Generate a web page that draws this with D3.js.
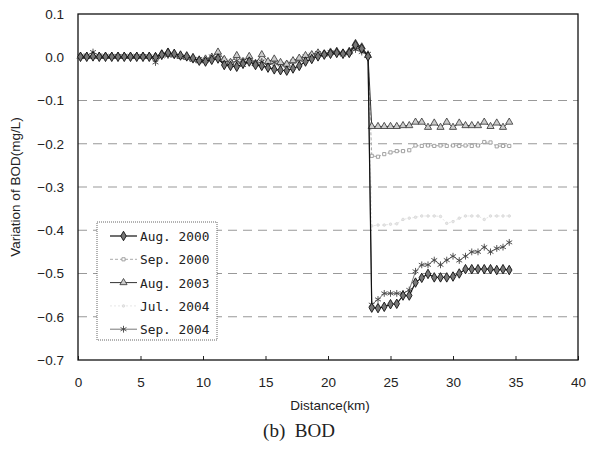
<!DOCTYPE html>
<html>
<head>
<meta charset="utf-8">
<script src="https://cdn.jsdelivr.net/npm/d3@7"></script>
<style>
  body { margin: 0; background: #fff; }
  text { font-family: "Liberation Sans", Arial, sans-serif; fill: #222; }
</style>
</head>
<body>
<script>
// distance along the river (km)
const distance = [
  0.2, 0.7, 1.2, 1.7, 2.2, 2.7, 3.2, 3.7, 4.2, 4.7, 5.2, 5.7,
  6.2, 6.7, 7.2, 7.7, 8.2, 8.7, 9.2, 9.7, 10.2, 10.7, 11.2, 11.7,
  12.2, 12.7, 13.2, 13.7, 14.2, 14.7, 15.2, 15.7, 16.2, 16.7, 17.2, 17.7,
  18.2, 18.7, 19.2, 19.7, 20.2, 20.7, 21.2, 21.7, 22.2, 22.7, 23.2,
  23.5, 24.0, 24.5, 25.0, 25.5, 26.0, 26.5, 27.0, 27.5, 28.0, 28.5, 29.0,
  29.5, 30.0, 30.5, 31.0, 31.5, 32.0, 32.5, 33.0, 33.5, 34.0, 34.5
];

const aug2000 = [
  0.001, 0.001, 0.002, 0.001, 0.001, 0.001, 0.001, 0.001, 0.001, 0.001, 0.001, 0.001,
  0.000, 0.006, 0.010, 0.008, 0.004, 0.002, -0.002, -0.008, -0.010, -0.006, -0.003, -0.018,
  -0.020, -0.022, -0.015, -0.010, -0.018, -0.020, -0.024, -0.028, -0.030, -0.031, -0.026, -0.020,
  -0.010, -0.004, 0.002, 0.006, 0.008, 0.010, 0.008, 0.010, 0.028, 0.020, 0.002,
  -0.579, -0.580, -0.577, -0.571, -0.570, -0.551, -0.551, -0.521, -0.510, -0.501, -0.509, -0.509,
  -0.509, -0.507, -0.500, -0.490, -0.490, -0.490, -0.490, -0.490, -0.492, -0.490, -0.492
];
const sep2000 = [
  0.002, 0.002, 0.002, 0.002, 0.002, 0.002, 0.002, 0.002, 0.002, 0.002, 0.002, 0.002,
  -0.002, 0.004, 0.006, 0.004, 0.002, 0.000, -0.004, -0.006, -0.005, -0.002, 0.002, -0.008,
  -0.010, -0.012, -0.006, -0.004, -0.012, -0.008, -0.014, -0.016, -0.018, -0.014, -0.012, -0.008,
  0.000, 0.004, 0.008, 0.010, 0.012, 0.012, 0.010, 0.012, 0.020, 0.016, 0.004,
  -0.228, -0.230, -0.224, -0.220, -0.217, -0.217, -0.215, -0.204, -0.205, -0.204, -0.205, -0.204,
  -0.205, -0.204, -0.205, -0.204, -0.205, -0.204, -0.196, -0.197, -0.206, -0.205, -0.205
];
const aug2003 = [
  0.002, 0.002, 0.003, 0.002, 0.002, 0.002, 0.002, 0.002, 0.002, 0.002, 0.002, 0.002,
  0.002, 0.008, 0.012, 0.006, 0.002, 0.000, -0.004, -0.008, -0.004, 0.000, 0.012, -0.005,
  -0.012, 0.004, -0.010, 0.002, -0.014, 0.006, -0.010, -0.004, -0.012, -0.016, -0.008, -0.002,
  0.004, 0.006, 0.010, 0.008, 0.012, 0.014, 0.010, 0.014, 0.032, 0.024, 0.004,
  -0.160, -0.160, -0.160, -0.160, -0.160, -0.158, -0.158, -0.150, -0.150, -0.162, -0.152, -0.162,
  -0.150, -0.162, -0.152, -0.158, -0.158, -0.158, -0.150, -0.160, -0.152, -0.162, -0.150
];
const jul2004 = [
  0.003, 0.003, 0.003, 0.003, 0.003, 0.003, 0.003, 0.003, 0.003, 0.003, 0.003, 0.003,
  0.002, 0.004, 0.006, 0.004, 0.003, 0.001, -0.002, -0.004, -0.003, 0.000, 0.004, -0.004,
  -0.006, -0.004, -0.008, -0.002, -0.010, -0.006, -0.010, -0.012, -0.014, -0.010, -0.008, -0.004,
  0.002, 0.004, 0.008, 0.010, 0.010, 0.012, 0.010, 0.012, 0.018, 0.014, 0.004,
  -0.390, -0.388, -0.388, -0.386, -0.385, -0.375, -0.372, -0.370, -0.367, -0.367, -0.367, -0.368,
  -0.384, -0.380, -0.372, -0.367, -0.367, -0.367, -0.375, -0.367, -0.367, -0.367, -0.367
];
const sep2004 = [
  0.003, 0.004, 0.012, 0.004, 0.003, 0.003, 0.003, 0.003, 0.003, 0.003, 0.003, 0.002,
  -0.012, 0.002, 0.004, 0.004, 0.002, 0.000, -0.006, -0.004, -0.008, 0.002, -0.002, -0.008,
  -0.014, -0.008, -0.018, -0.006, -0.016, -0.010, -0.020, -0.012, -0.016, -0.020, -0.010, -0.006,
  0.002, 0.006, 0.010, 0.006, 0.012, 0.010, 0.006, 0.010, 0.018, 0.012, 0.008,
  -0.572, -0.560, -0.546, -0.546, -0.546, -0.546, -0.538, -0.495, -0.480, -0.480, -0.469, -0.480,
  -0.469, -0.460, -0.470, -0.460, -0.450, -0.450, -0.439, -0.450, -0.442, -0.439, -0.428
];

const seriesNames = ["Aug. 2000", "Sep. 2000", "Aug. 2003", "Jul. 2004", "Sep. 2004"];
const seriesValues = [aug2000, sep2000, aug2003, jul2004, sep2004];
const yTicks = [0.1, 0.0, -0.1, -0.2, -0.3, -0.4, -0.5, -0.6, -0.7];
const xTicks = [0, 5, 10, 15, 20, 25, 30, 35, 40];

// look of each series
const styles = [
  { line: "#111", width: 1.2, dash: null, symbol: d3.symbolDiamond, size: 26, fill: "#777", stroke: "#111" },
  { line: "#aaa", width: 1, dash: "3,2", symbol: d3.symbolSquare, size: 10, fill: "#fff", stroke: "#999" },
  { line: "#333", width: 1, dash: null, symbol: d3.symbolTriangle, size: 22, fill: "#ccc", stroke: "#444" },
  { line: "#e6e6e6", width: 1, dash: "2,2", symbol: d3.symbolCircle, size: 5, fill: "#e8e8e8", stroke: "#d8d8d8" },
  { line: "#777", width: 1, dash: null, symbol: d3.symbolAsterisk, size: 32, fill: "none", stroke: "#444" }
];

const width = 597, height = 453;
const margin = { left: 78, right: 19, top: 14, bottom: 93 };

const svg = d3.select("body").append("svg")
  .attr("width", width)
  .attr("height", height);

const x = d3.scaleLinear().domain([0, 40]).range([margin.left, width - margin.right]);
const y = d3.scaleLinear().domain([-0.7, 0.1]).range([height - margin.bottom, margin.top]);

// dashed grid lines (-0.1 .. -0.6)
svg.append("g").selectAll("line")
  .data(yTicks.filter(d => d < -0.05 && d > -0.65))
  .join("line")
  .attr("x1", x(0)).attr("x2", x(40))
  .attr("y1", d => y(d)).attr("y2", d => y(d))
  .attr("stroke", "#999")
  .attr("stroke-width", 1)
  .attr("stroke-dasharray", "9,6");

// axes
const fmt = d3.format(".1f");
const yAxis = svg.append("g")
  .attr("transform", `translate(${x(0)},0)`)
  .call(d3.axisLeft(y).tickValues(yTicks).tickFormat(fmt).tickSize(0).tickPadding(14));
const xAxis = svg.append("g")
  .attr("transform", `translate(0,${y(-0.7)})`)
  .call(d3.axisBottom(x).tickValues(xTicks).tickSize(-4).tickPadding(17));
[yAxis, xAxis].forEach(a => {
  a.select(".domain").remove();
  a.selectAll("text").style("font-size", "13.5px").attr("fill", "#222");
  a.selectAll("line").attr("stroke", "#222");
});

// frame
svg.append("rect")
  .attr("x", x(0)).attr("y", y(0.1))
  .attr("width", x(40) - x(0)).attr("height", y(-0.7) - y(0.1))
  .attr("fill", "none").attr("stroke", "#111").attr("stroke-width", 1.3);

// series lines + markers
const lineGen = d3.line().x(d => x(d[0])).y(d => y(d[1]));
const drawOrder = [3, 1, 4, 2, 0];
drawOrder.forEach(i => {
  const pts = distance.map((d, j) => [d, seriesValues[i][j]]);
  const s = styles[i];
  svg.append("path")
    .datum(pts)
    .attr("d", lineGen)
    .attr("fill", "none")
    .attr("stroke", s.line)
    .attr("stroke-width", s.width)
    .attr("stroke-dasharray", s.dash);
  svg.append("g").selectAll("path")
    .data(pts)
    .join("path")
    .attr("transform", d => `translate(${x(d[0])},${y(d[1])})`)
    .attr("d", d3.symbol().type(s.symbol).size(s.size))
    .attr("fill", s.fill)
    .attr("stroke", s.stroke)
    .attr("stroke-width", 0.9);
});

// legend
const legend = svg.append("g");
legend.append("rect")
  .attr("x", 97).attr("y", 222).attr("width", 120).attr("height", 118)
  .attr("fill", "#fff").attr("stroke", "#666").attr("stroke-width", 1)
  .attr("stroke-dasharray", "1,1");
seriesNames.forEach((name, i) => {
  const s = styles[i];
  const ly = 236 + i * 23.3;
  legend.append("line")
    .attr("x1", 110).attr("x2", 137).attr("y1", ly).attr("y2", ly)
    .attr("stroke", s.line).attr("stroke-width", s.width)
    .attr("stroke-dasharray", s.dash);
  legend.append("path")
    .attr("transform", `translate(123.5,${ly})`)
    .attr("d", d3.symbol().type(s.symbol).size(s.size))
    .attr("fill", s.fill).attr("stroke", s.stroke).attr("stroke-width", 0.9);
  legend.append("text")
    .attr("x", 140).attr("y", ly + 5)
    .style("font-family", "'DejaVu Sans Mono', monospace")
    .style("font-size", "12.8px")
    .text(name);
});

// titles
svg.append("text")
  .attr("transform", `translate(20,${(y(0.1) + y(-0.7)) / 2}) rotate(-90)`)
  .attr("text-anchor", "middle")
  .style("font-size", "13.5px")
  .text("Variation of BOD(mg/L)");
svg.append("text")
  .attr("x", 330).attr("y", 410)
  .attr("text-anchor", "middle")
  .style("font-size", "13.5px")
  .text("Distance(km)");
svg.append("text")
  .attr("x", 299).attr("y", 437)
  .attr("text-anchor", "middle")
  .style("font-family", "'Liberation Serif', 'Times New Roman', serif")
  .style("font-size", "19px")
  .style("white-space", "pre")
  .text("(b)  BOD");
</script>
</body>
</html>
